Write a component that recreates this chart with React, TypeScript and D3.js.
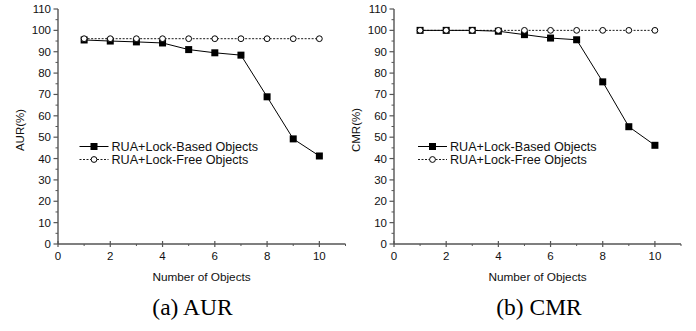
import React from "react";
import * as d3 from "d3";

const xValues = [1, 2, 3, 4, 5, 6, 7, 8, 9, 10];
const aurLockBased = [95.5, 95.0, 94.6, 94.1, 91.0, 89.5, 88.4, 68.9, 49.2, 41.2];
const aurLockFree = [96.1, 96.1, 96.1, 96.1, 96.1, 96.1, 96.1, 96.1, 96.1, 96.1];
const cmrLockBased = [100, 100, 100, 99.6, 98.0, 96.4, 95.6, 75.9, 54.9, 46.2];
const cmrLockFree = [100, 100, 100, 100, 100, 100, 100, 100, 100, 100];
const yTicks = [0, 10, 20, 30, 40, 50, 60, 70, 80, 90, 100, 110];
const yMinor = [5, 15, 25, 35, 45, 55, 65, 75, 85, 95, 105];
const xTicks = [0, 2, 4, 6, 8, 10];
const xMinor = [1, 3, 5, 7, 9, 11];
const legendLabels = ["RUA+Lock-Based Objects", "RUA+Lock-Free Objects"];

const SANS = "'Liberation Sans', Arial, sans-serif";
const SERIF = "'Liberation Serif', 'Times New Roman', serif";

type PanelProps = {
  left: number;
  right: number;
  yLabel: string;
  caption: string;
  captionX: number;
  based: number[];
  free: number[];
  legendX: number;
};

function Panel({ left, right, yLabel, caption, captionX, based, free, legendX }: PanelProps) {
  const x = d3.scaleLinear().domain([0, 11]).range([left, right]);
  const y = d3.scaleLinear().domain([0, 110]).range([244, 9]);
  const line = d3
    .line<number>()
    .x((_, i) => x(xValues[i]))
    .y((d) => y(d));
  const axisColor = "#555";
  return (
    <g>
      {/* y axis */}
      <line x1={left} x2={left} y1={y(0)} y2={y(110)} stroke={axisColor} strokeWidth={1.4} />
      {yTicks.map((t) => (
        <g key={"y" + t}>
          <line x1={left - 4.5} x2={left} y1={y(t)} y2={y(t)} stroke={axisColor} strokeWidth={1.2} />
          <text x={left - 7} y={y(t) + 4} fontSize={11.5} fontFamily={SANS} textAnchor="end" fill="#111">
            {t}
          </text>
        </g>
      ))}
      {yMinor.map((t) => (
        <line key={"ym" + t} x1={left - 2.5} x2={left} y1={y(t)} y2={y(t)} stroke={axisColor} strokeWidth={1} />
      ))}
      {/* x axis */}
      <line x1={left} x2={right} y1={y(0)} y2={y(0)} stroke={axisColor} strokeWidth={1.4} />
      {xTicks.map((t) => (
        <g key={"x" + t}>
          <line x1={x(t)} x2={x(t)} y1={y(0) - 3} y2={y(0) + 3} stroke={axisColor} strokeWidth={1.2} />
          <text x={x(t)} y={y(0) + 16} fontSize={11.5} fontFamily={SANS} textAnchor="middle" fill="#111">
            {t}
          </text>
        </g>
      ))}
      {xMinor.map((t) => (
        <line key={"xm" + t} x1={x(t)} x2={x(t)} y1={y(0)} y2={y(0) + 2} stroke={axisColor} strokeWidth={1} />
      ))}
      <text x={left + 143.6} y={280.5} fontSize={11.8} fontFamily={SANS} textAnchor="middle" fill="#111">
        Number of Objects
      </text>
      <text
        transform={`translate(${left - 34},130) rotate(-90)`}
        fontSize={11.5}
        fontFamily={SANS}
        textAnchor="middle"
        fill="#111"
      >
        {yLabel}
      </text>
      <text x={captionX} y={315} fontSize={23.5} fontFamily={SERIF} textAnchor="middle" fill="#000">
        {caption}
      </text>
      {/* data */}
      <path d={line(free) || ""} fill="none" stroke="#000" strokeWidth={0.9} strokeDasharray="2,1.5" />
      <path d={line(based) || ""} fill="none" stroke="#000" strokeWidth={1} />
      {based.map((v, i) => (
        <rect key={"b" + i} x={x(xValues[i]) - 3.5} y={y(v) - 3.5} width={7} height={7} fill="#000" />
      ))}
      {free.map((v, i) => (
        <circle key={"f" + i} cx={x(xValues[i])} cy={y(v)} r={2.9} fill="#fff" stroke="#000" strokeWidth={1} />
      ))}
      {/* legend */}
      <g>
        <line x1={legendX} x2={legendX + 29} y1={146.5} y2={146.5} stroke="#000" strokeWidth={1} />
        <rect x={legendX + 14.5 - 3.5} y={143} width={7} height={7} fill="#000" />
        <text x={legendX + 32} y={151} fontSize={12.6} fontFamily={SANS} fill="#111">
          {legendLabels[0]}
        </text>
        <line x1={legendX} x2={legendX + 29} y1={159.5} y2={159.5} stroke="#000" strokeWidth={0.9} strokeDasharray="2,1.5" />
        <circle cx={legendX + 14.5} cy={159.5} r={2.9} fill="#fff" stroke="#000" strokeWidth={1} />
        <text x={legendX + 32} y={164} fontSize={12.6} fontFamily={SANS} fill="#111">
          {legendLabels[1]}
        </text>
      </g>
    </g>
  );
}

export default function App() {
  return (
    <svg
      width={696}
      height={331}
      style={{ position: "absolute", left: 0, top: 0, background: "#fff" }}
    >
      <rect width={696} height={331} fill="#fff" />
      <Panel
        left={58}
        right={345.5}
        yLabel="AUR(%)"
        caption="(a) AUR"
        captionX={192.5}
        based={aurLockBased}
        free={aurLockFree}
        legendX={79.5}
      />
      <Panel
        left={394}
        right={681}
        yLabel="CMR(%)"
        caption="(b) CMR"
        captionX={539}
        based={cmrLockBased}
        free={cmrLockFree}
        legendX={418}
      />
    </svg>
  );
}
